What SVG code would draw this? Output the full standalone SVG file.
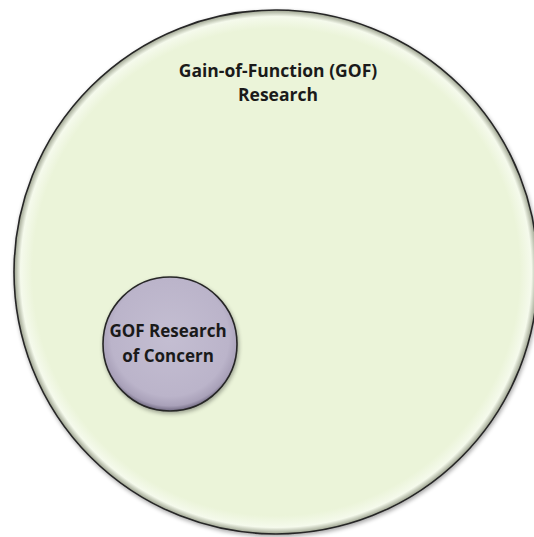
<svg xmlns="http://www.w3.org/2000/svg" width="534" height="537" viewBox="0 0 534 537">
  <style>
    .lbl { font-family: "Open Sans", "Liberation Sans", sans-serif; font-weight: bold; fill: #1a1a1a; text-anchor: middle; }
    .ring { stroke: #262626; stroke-width: 1.6; }
  </style>
  <defs>
    <radialGradient id="gBig" cx="0.5" cy="0.5" r="0.5">
      <stop offset="0" stop-color="#ebf4d9"/>
      <stop offset="0.93" stop-color="#ebf4d9"/>
      <stop offset="0.975" stop-color="#f5faec"/>
      <stop offset="1" stop-color="#9aa08c"/>
    </radialGradient>
    <radialGradient id="gSmall" cx="0.5" cy="0.45" r="0.55">
      <stop offset="0" stop-color="#c4bed2"/>
      <stop offset="0.8" stop-color="#bbb4ca"/>
      <stop offset="0.93" stop-color="#a9a1b9"/>
      <stop offset="1" stop-color="#6f6880"/>
    </radialGradient>
    <filter id="sh" x="-10%" y="-10%" width="120%" height="120%">
      <feGaussianBlur in="SourceAlpha" stdDeviation="2"/>
      <feOffset dx="1" dy="2" result="b"/>
      <feComponentTransfer><feFuncA type="linear" slope="0.35"/></feComponentTransfer>
      <feMerge><feMergeNode/><feMergeNode in="SourceGraphic"/></feMerge>
    </filter>
  </defs>
  <rect width="534" height="537" fill="#ffffff"/>
  <g id="gof-research">
    <circle class="ring" cx="276" cy="272" r="262" fill="url(#gBig)" filter="url(#sh)"/>
    <text class="lbl" x="278" y="77" font-size="17.5">Gain-of-Function (GOF)</text>
    <text class="lbl" x="278" y="101" font-size="17.5">Research</text>
  </g>
  <g id="gof-concern">
    <circle class="ring" cx="170" cy="344" r="67" fill="url(#gSmall)" filter="url(#sh)"/>
    <text class="lbl" x="168" y="337" font-size="17">GOF Research</text>
    <text class="lbl" x="168" y="362" font-size="17">of Concern</text>
  </g>
  <g id="connectors"/>
</svg>
